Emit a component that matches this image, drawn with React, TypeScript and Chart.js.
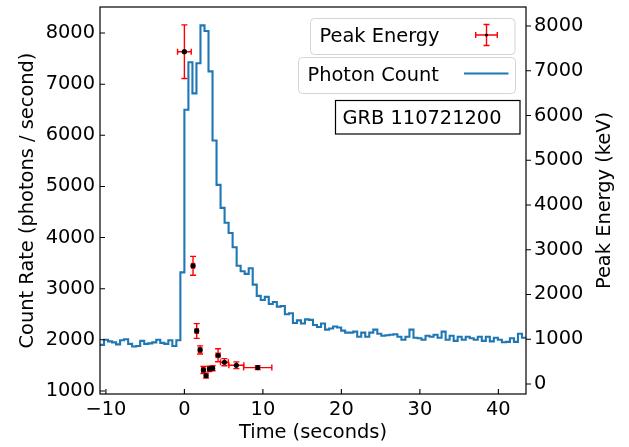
import React, { useEffect, useRef } from "react";
import { Chart, registerables } from "chart.js";

Chart.register(...registerables);

// ---- data ----
const binStart = -10.752; // seconds, left edge of the first bin
const binWidth = 0.512; // seconds
const countRate = [
  1900, 2000, 1970, 1950, 1910, 1990, 2010, 1920, 1870, 1880,
  1980, 1920, 1930, 1950, 2000, 1940, 1920, 1990, 1880, 1990,
  3320, 6500, 7430, 6820, 7410, 8150, 8040, 7250, 5900, 5030,
  4580, 4290, 4090, 3810,
  3450, 3340, 3290, 3400, 3080, 2860, 2780, 2840, 2700, 2740,
  2650, 2660, 2500, 2520, 2330, 2380, 2320,
  2400, 2390, 2290, 2250, 2320, 2200, 2220, 2260, 2240, 2180,
  2140, 2140, 2160, 2060, 2140, 2060, 2140, 2200, 2120, 2080,
  2090, 2100, 2110, 2060, 2000, 2060,
  2200, 2040, 2030, 2000, 2080, 2060, 2100, 2040, 2160, 2000,
  2080, 1980, 2060, 2000, 2060, 2030, 2000, 2060, 1980, 2060,
  1970, 2040, 2000, 1953, 1960, 2030, 1960, 2120, 2040,
];
const peakTime = [0, 1.1, 1.57, 2.0, 2.42, 2.76, 3.18, 3.6, 4.29, 5.1, 6.62, 9.34];
const peakTimeErr = [0.87, 0.2, 0.2, 0.2, 0.2, 0.2, 0.2, 0.2, 0.25, 0.5, 0.95, 1.8];
const peakEnergy = [7426, 2640, 1184, 760, 313, 186, 335, 350, 641, 485, 418, 365];
const peakEnergyErr = [600, 210, 165, 90, 80, 55, 60, 55, 145, 80, 75, 45];

const xTicks = [-10, 0, 10, 20, 30, 40];
const countTicks = [1000, 2000, 3000, 4000, 5000, 6000, 7000, 8000];
const energyTicks = [0, 1000, 2000, 3000, 4000, 5000, 6000, 7000, 8000];

const xLabel = "Time (seconds)";
const yLabel = "Count Rate (photons / second)";
const y2Label = "Peak Energy (keV)";
const legendEnergy = "Peak Energy";
const legendCount = "Photon Count";
const grbName = "GRB 110721200";

const FONT_FAMILY = '"DejaVu Sans", "Liberation Sans", sans-serif';
const FS = 19.4;
const BLUE = "#1f77b4";

const fmt = (v: number) => (v < 0 ? "\u2212" + Math.abs(v) : String(v));

export default function App() {
  const ref = useRef<HTMLCanvasElement>(null);

  useEffect(() => {
    document.body.style.margin = "0";
    const canvas = ref.current;
    if (!canvas) return;

    const stepData = countRate.map((v, i) => ({ x: binStart + i * binWidth, y: v }));
    stepData.push({
      x: binStart + countRate.length * binWidth,
      y: countRate[countRate.length - 1],
    });
    const pts = peakTime.map((t, i) => ({ x: t, y: peakEnergy[i] }));

    const font = { family: FONT_FAMILY, size: FS };

    const drawErr = (ctx: CanvasRenderingContext2D, x0: number, x1: number, y0: number, y1: number, px: number, py: number, cap: number) => {
      ctx.beginPath();
      ctx.moveTo(x0, py);
      ctx.lineTo(x1, py);
      ctx.moveTo(px, y0);
      ctx.lineTo(px, y1);
      ctx.moveTo(x0, py - cap);
      ctx.lineTo(x0, py + cap);
      ctx.moveTo(x1, py - cap);
      ctx.lineTo(x1, py + cap);
      ctx.moveTo(px - cap, y0);
      ctx.lineTo(px + cap, y0);
      ctx.moveTo(px - cap, y1);
      ctx.lineTo(px + cap, y1);
      ctx.stroke();
    };

    const overlay = {
      id: "overlay",
      afterDatasetDraw(chart: any, args: any) {
        if (args.index !== 1) return;
        const ctx = chart.ctx as CanvasRenderingContext2D;
        const xs = chart.scales.x;
        const ys = chart.scales.y2;
        ctx.save();
        ctx.strokeStyle = "#ff0000";
        ctx.lineWidth = 1.4;
        peakTime.forEach((t, i) => {
          const px = xs.getPixelForValue(t);
          const py = ys.getPixelForValue(peakEnergy[i]);
          const x0 = xs.getPixelForValue(t - peakTimeErr[i]);
          const x1 = xs.getPixelForValue(t + peakTimeErr[i]);
          const y0 = ys.getPixelForValue(peakEnergy[i] - peakEnergyErr[i]);
          const y1 = ys.getPixelForValue(peakEnergy[i] + peakEnergyErr[i]);
          drawErr(ctx, x0, x1, y0, y1, px, py, 3);
        });
        ctx.restore();
      },
      afterDraw(chart: any) {
        const ctx = chart.ctx as CanvasRenderingContext2D;
        const a = chart.chartArea;
        const xs = chart.scales.x;
        const yl = chart.scales.y;
        const yr = chart.scales.y2;
        ctx.save();
        // frame
        ctx.strokeStyle = "#000";
        ctx.lineWidth = 1.2;
        ctx.strokeRect(a.left, a.top, a.right - a.left, a.bottom - a.top);
        // ticks
        ctx.lineWidth = 1.1;
        ctx.beginPath();
        countTicks.forEach((v) => {
          const y = yl.getPixelForValue(v);
          ctx.moveTo(a.left, y);
          ctx.lineTo(a.left + 5, y);
        });
        energyTicks.forEach((v) => {
          const y = yr.getPixelForValue(v);
          ctx.moveTo(a.right, y);
          ctx.lineTo(a.right + 5, y);
        });
        xTicks.forEach((v) => {
          const x = xs.getPixelForValue(v);
          ctx.moveTo(x, a.bottom);
          ctx.lineTo(x, a.bottom - 5);
        });
        ctx.stroke();

        // axis titles
        ctx.fillStyle = "#000";
        ctx.font = `${FS}px ${FONT_FAMILY}`;
        ctx.textAlign = "center";
        ctx.textBaseline = "middle";
        ctx.fillText(xLabel, (a.left + a.right) / 2, 433);
        ctx.save();
        ctx.translate(28, (a.top + a.bottom) / 2);
        ctx.rotate(-Math.PI / 2);
        ctx.fillText(yLabel, 0, 0);
        ctx.restore();
        ctx.save();
        ctx.translate(605, (a.top + a.bottom) / 2);
        ctx.rotate(-Math.PI / 2);
        ctx.fillText(y2Label, 0, 0);
        ctx.restore();

        // legend 1 (Peak Energy)
        const rr = (x: number, y: number, w: number, h: number) => {
          ctx.beginPath();
          (ctx as any).roundRect(x, y, w, h, 4);
          ctx.fillStyle = "rgba(255,255,255,0.8)";
          ctx.fill();
          ctx.strokeStyle = "#d4d4d4";
          ctx.lineWidth = 1;
          ctx.stroke();
        };
        rr(310.5, 18.5, 204.5, 36);
        ctx.fillStyle = "#000";
        ctx.textAlign = "left";
        ctx.fillText(legendEnergy, 319.5, 36.5);
        ctx.strokeStyle = "#ff0000";
        ctx.lineWidth = 1.4;
        drawErr(ctx, 475.7, 497.3, 24.5, 45.5, 486.5, 35, 3);
        ctx.fillStyle = "#000";
        ctx.beginPath();
        ctx.arc(486.5, 35, 1.6, 0, Math.PI * 2);
        ctx.fill();

        // legend 2 (Photon Count)
        rr(298.5, 57.5, 217, 36);
        ctx.fillStyle = "#000";
        ctx.fillText(legendCount, 307.5, 75.5);
        ctx.strokeStyle = BLUE;
        ctx.lineWidth = 2;
        ctx.beginPath();
        ctx.moveTo(464, 73.5);
        ctx.lineTo(508.5, 73.5);
        ctx.stroke();

        // GRB name box
        ctx.fillStyle = "#fff";
        ctx.fillRect(335.5, 100.5, 184.5, 33.5);
        ctx.strokeStyle = "#000";
        ctx.lineWidth = 1.2;
        ctx.strokeRect(335.5, 100.5, 184.5, 33.5);
        ctx.fillStyle = "#000";
        ctx.fillText(grbName, 342.5, 118.5);
        ctx.restore();
      },
    };

    const noPad = (scale: any) => {
      scale.paddingTop = 0;
      scale.paddingBottom = 0;
      scale.paddingLeft = 0;
      scale.paddingRight = 0;
    };

    const chart = new Chart(canvas, {
      data: {
        datasets: [
          {
            type: "scatter",
            label: legendEnergy,
            data: pts,
            xAxisID: "x",
            yAxisID: "y2",
            pointRadius: 2.6,
            pointBackgroundColor: "#000",
            pointBorderWidth: 0,
            pointBorderColor: "#000",
          },
          {
            type: "line",
            label: legendCount,
            data: stepData,
            xAxisID: "x",
            yAxisID: "y",
            stepped: "before",
            borderColor: BLUE,
            borderWidth: 2.1,
            pointRadius: 0,
            fill: false,
            tension: 0,
          },
        ],
      } as any,
      options: {
        responsive: false,
        animation: false,
        devicePixelRatio: 1,
        layout: { padding: { top: 7, left: 0, right: 0, bottom: 0 } },
        plugins: {
          legend: { display: false },
          tooltip: { enabled: false },
        },
        scales: {
          x: {
            type: "linear",
            position: "bottom",
            min: binStart,
            max: binStart + countRate.length * binWidth,
            grid: { display: false, drawTicks: false },
            border: { display: false },
            ticks: {
              font,
              color: "#000",
              padding: 4,
              autoSkip: false,
              maxRotation: 0,
              callback: (v: any) => fmt(Number(v)),
            },
            afterBuildTicks: (s: any) => {
              s.ticks = xTicks.map((v) => ({ value: v }));
            },
            afterFit: (s: any) => {
              s.height = 53;
              noPad(s);
            },
          },
          y: {
            type: "linear",
            position: "left",
            min: 940,
            max: 8510,
            grid: { display: false, drawTicks: false },
            border: { display: false },
            ticks: {
              font,
              color: "#000",
              padding: 5,
              autoSkip: false,
              callback: (v: any) => fmt(Number(v)),
            },
            afterBuildTicks: (s: any) => {
              s.ticks = countTicks.map((v) => ({ value: v }));
            },
            afterFit: (s: any) => {
              s.width = 100;
              noPad(s);
            },
          },
          y2: {
            type: "linear",
            position: "right",
            min: -225,
            max: 8425,
            grid: { display: false, drawTicks: false },
            border: { display: false },
            ticks: {
              font,
              color: "#000",
              padding: 8,
              autoSkip: false,
              callback: (v: any) => fmt(Number(v)),
            },
            afterBuildTicks: (s: any) => {
              s.ticks = energyTicks.map((v) => ({ value: v }));
            },
            afterFit: (s: any) => {
              s.width = 103;
              noPad(s);
            },
          },
        },
      } as any,
      plugins: [overlay],
    });

    return () => chart.destroy();
  }, []);

  return (
    <div style={{ width: 629, height: 447, background: "#fff" }}>
      <canvas ref={ref} width={629} height={447} style={{ display: "block" }} />
    </div>
  );
}
